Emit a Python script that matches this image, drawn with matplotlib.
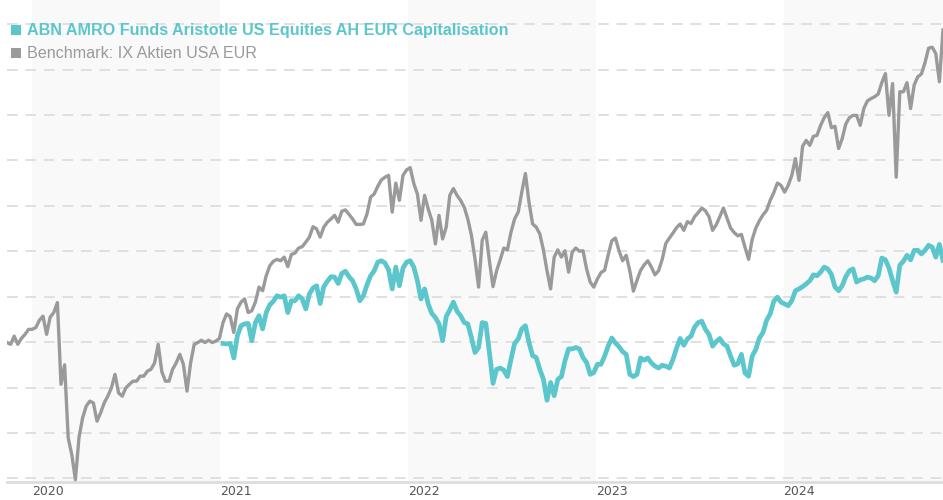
import matplotlib
matplotlib.use("Agg")
import matplotlib.pyplot as plt
import matplotlib.patches as mpatches
import pandas as pd

# ── Data (weekly closes, indexed) ────────────────────────────────────────

FUND_NAME = "ABN AMRO Funds Aristotle US Equities AH EUR Capitalisation"
BENCH_NAME = "Benchmark: IX Aktien USA EUR"

weeks = pd.date_range("2019-11-13", periods=261, freq="7D")
fund_start = 60  # fund series begins in January 2021

benchmark = [
    99.9, 99.5, 101.3, 99.5, 100.8, 101.7, 102.8, 102.8, 103.2, 104.8,
    105.7, 101.7, 105.5, 106.5, 108.7, 90.7, 95.0, 78.9, 75.2, 69.7,
    79.0, 83.3, 85.9, 87.0, 86.6, 82.6, 84.4, 86.6, 88.1, 89.9,
    92.9, 88.8, 88.1, 89.9, 90.7, 91.4, 91.4, 92.5, 92.5, 93.6,
    94.0, 95.4, 99.5, 93.5, 91.4, 91.4, 94.0, 95.4, 97.3, 95.1,
    89.2, 95.4, 99.5, 99.9, 100.4, 99.9, 100.4, 99.9, 100.2, 100.8,
    104.3, 106.2, 105.6, 102.1, 107.3, 108.8, 109.5, 106.5, 106.9, 108.8,
    112.1, 111.3, 114.6, 116.8, 117.8, 118.2, 117.9, 118.7, 116.6, 119.3,
    119.6, 120.7, 121.0, 122.0, 123.1, 125.4, 124.9, 123.1, 125.3, 126.4,
    127.1, 127.9, 126.4, 128.8, 129.1, 128.1, 127.1, 125.9, 125.9, 126.0,
    128.2, 131.9, 132.6, 134.3, 135.7, 136.3, 136.7, 128.6, 135.0, 131.2,
    136.7, 137.9, 138.4,
    134.9, 132.6, 126.8, 132.3, 129.3, 126.8, 121.6, 127.9, 122.7, 125.3,
    132.3, 133.8, 132.3, 131.2, 129.7, 127.1, 123.5, 118.3, 112.1, 122.4,
    124.2, 117.9, 112.2, 115.7, 118.1, 120.7, 120.3, 124.2, 127.1, 128.6,
    133.0, 137.1, 130.8, 126.0, 125.3, 123.8, 120.3, 115.7, 111.7, 118.7,
    120.3, 118.7, 120.1, 115.4, 119.8, 120.7, 120.0, 120.1, 116.1, 113.2,
    112.1, 113.9,
    115.3, 115.8, 119.2, 122.3, 122.9, 120.1, 117.9, 119.1, 115.7, 111.2,
    113.6, 115.8, 117.0, 117.9, 116.5, 114.8, 115.7, 118.2, 121.7, 122.9,
    124.0, 125.2, 126.0, 124.6, 126.5, 126.1, 127.6, 128.5, 129.5, 128.9,
    127.6, 124.6, 125.8, 127.6, 129.5, 127.3, 125.1, 124.1, 123.4, 123.7,
    120.9, 118.2, 122.6, 125.1, 126.7, 128.0, 129.0, 131.2, 132.9,
    135.0, 134.5, 133.0, 134.5, 136.7, 140.4, 135.6, 143.1, 144.4, 143.3,
    145.3, 145.5, 147.7, 149.4, 150.5, 147.2, 147.5, 142.6, 144.8, 148.0,
    149.4, 149.9, 149.9, 147.7, 151.4, 153.1, 153.6, 154.0, 154.6, 157.1,
    159.1, 149.9, 156.9, 136.3, 155.1, 155.1, 157.1, 151.4, 156.6, 158.4,
    159.0, 161.5, 164.7, 164.9, 163.5, 157.3, 168.7,
]

fund = [
    99.7, 99.6, 99.7, 96.5, 101.4, 103.6, 104.0, 104.1, 100.3, 104.3,
    105.8, 102.9, 106.5, 108.2, 109.0, 110.2, 109.9, 110.2, 106.5, 109.1,
    109.1, 110.2, 109.5, 107.3, 110.6, 111.9, 112.4, 108.5, 112.2, 113.4,
    114.4, 114.3, 112.9, 115.1, 115.6, 114.4, 113.5, 111.7, 109.1, 110.2,
    112.6, 114.6, 115.7, 117.6, 117.9, 117.4, 115.9, 111.7, 116.5, 112.4,
    116.3, 117.6, 117.9,
    116.5, 113.5, 109.5, 111.7, 108.4, 106.3, 105.4, 104.0, 100.3, 105.6,
    107.1, 108.8, 106.8, 105.8, 104.3, 104.0, 101.0, 97.7, 98.8, 104.3,
    104.1, 97.7, 90.9, 94.0, 94.3, 93.8, 92.4, 96.2, 99.7, 100.7,
    102.9, 103.6, 99.9, 97.0, 96.6, 94.0, 91.8, 87.2, 91.1, 88.2,
    91.8, 92.4, 95.9, 98.5, 98.5, 98.8, 98.5, 96.6, 95.5, 92.9,
    93.3, 95.1,
    95.1, 96.9, 99.1, 100.9, 99.8, 99.0, 97.9, 97.3, 92.9, 92.4,
    92.9, 96.5, 96.0, 96.5, 95.4, 94.7, 94.3, 94.9, 94.7, 94.3,
    96.2, 98.7, 100.8, 99.3, 100.7, 101.3, 103.3, 104.3, 104.6, 102.8,
    101.7, 99.1, 100.1, 100.8, 99.6, 99.1, 96.9, 94.9, 95.2, 97.3,
    93.2, 92.5, 96.9, 98.4, 100.9, 102.1, 104.8, 106.2, 109.0,
    109.9, 108.8, 108.4, 108.0, 109.1, 111.3, 111.7, 112.2, 112.8, 113.5,
    114.8, 114.6, 115.4, 116.5, 116.1, 114.9, 112.1, 111.3, 112.4, 114.4,
    115.7, 116.1, 113.2, 113.7, 113.9, 114.3, 114.1, 113.5, 114.6, 118.5,
    118.1, 116.3, 113.5, 111.0, 116.9, 117.8, 119.1, 118.1, 120.2, 120.2,
    119.4, 120.2, 121.3, 120.9, 118.7, 121.5, 118.0,
]

years = [2020, 2021, 2022, 2023, 2024]
shaded_years = [2020, 2022, 2024]
grid_levels = list(range(70, 171, 10))

# ── Style ────────────────────────────────────────────────────────────────

TEAL = "#5cc6cd"
GREY = "#9a9a9a"
BAND = "#f9f9f9"
GRID = "#e0e0e0"

plt.rcParams["font.family"] = ["Liberation Sans", "DejaVu Sans"]

fig = plt.figure(figsize=(9.43, 5.0), dpi=100)
ax = fig.add_axes([7 / 943, 18 / 500, 936 / 943, 482 / 500])

for yr in shaded_years:
    ax.axvspan(pd.Timestamp(f"{yr}-01-01"), pd.Timestamp(f"{yr + 1}-01-01"),
               color=BAND, lw=0, zorder=0)

ax.plot(weeks, benchmark, color=GREY, lw=2.4, zorder=3, solid_joinstyle="round")
ax.plot(weeks[fund_start:], fund, color=TEAL, lw=3.4, zorder=4,
        solid_joinstyle="round")

ax.set_xlim(weeks[0], weeks[-1])
ax.set_ylim(69.2, 175.3)

ax.set_yticks(grid_levels)
ax.yaxis.grid(True, linestyle=(0, (5.5, 4)), color=GRID, lw=1.4, zorder=1)
ax.set_axisbelow(True)
ax.tick_params(axis="y", left=False, labelleft=False)

ax.set_xticks([pd.Timestamp(f"{y}-01-01") for y in years])
ax.set_xticklabels([str(y) for y in years], family="DejaVu Sans",
                   fontsize=9, color="#555555", ha="left")
ax.tick_params(axis="x", length=0, pad=2)

for side in ("top", "left", "right"):
    ax.spines[side].set_visible(False)
ax.spines["bottom"].set_color("#dddddd")
ax.spines["bottom"].set_linewidth(2)

# legend drawn as coloured squares with labels
for (yc, colour, label, weight) in [(30, TEAL, FUND_NAME, "bold"),
                                    (53, GREY, BENCH_NAME, "normal")]:
    sq = mpatches.Rectangle((11 / 943, 1 - (yc + 5) / 500), 10 / 943, 10 / 500,
                            transform=fig.transFigure, color=colour, lw=0)
    fig.add_artist(sq)
    fig.text(27 / 943, 1 - yc / 500, label, color=colour, fontsize=11.6,
             fontweight=weight, va="center", ha="left")

fig.savefig("out.png", dpi=100)
